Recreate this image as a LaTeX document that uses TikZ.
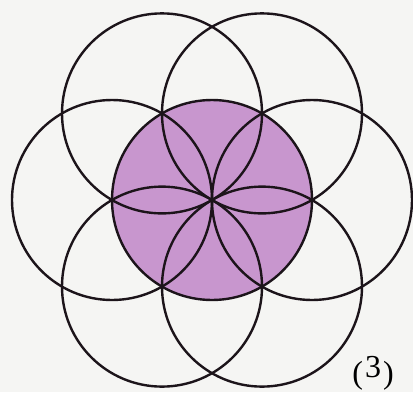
\documentclass[tikz,border=0pt]{standalone}
\usepackage{fontspec}
\setmainfont{Liberation Serif}
\usetikzlibrary{calc}
\definecolor{bgc}{RGB}{245,245,243}
\definecolor{petal}{RGB}{200,150,206}
\definecolor{ink}{RGB}{28,20,26}
\tikzset{ring/.style={draw=ink,line width=2.4pt}}
\begin{document}
\begin{tikzpicture}[x=1pt,y=-1pt]
\fill[bgc] (0,0) rectangle (413,392);
\useasboundingbox (0,0) rectangle (413,392);
\coordinate (c) at (212,200);
\fill[petal] (c) circle (100);
\foreach \a in {0,60,...,300}{
  \draw[ring] ($(c)+(\a:100)$) circle (100);
}
\draw[ring] (c) circle (100);
\node[font=\fontsize{32}{34}\selectfont,inner sep=0pt,anchor=base] (lab) at (373,383) {(\kern2pt\raisebox{6pt}{3}\kern2pt)};
\end{tikzpicture}
\end{document}
